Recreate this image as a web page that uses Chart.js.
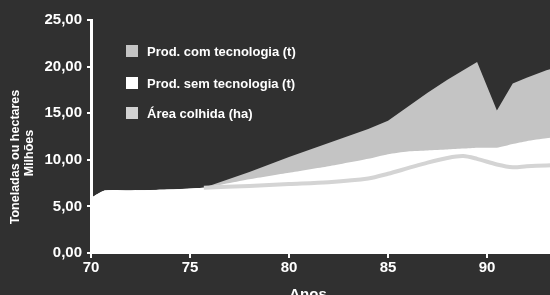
<!DOCTYPE html>
<html><head><meta charset="utf-8">
<script src="https://cdn.jsdelivr.net/npm/chart.js@4.4.0/dist/chart.umd.min.js"></script>
<style>
html,body{margin:0;padding:0;background:#303030;overflow:hidden;width:550px;height:295px;}
#wrap{position:absolute;left:0;top:0;width:600px;height:300px;}
canvas{display:block}
</style></head><body>
<div id="wrap"><canvas id="c" width="600" height="300"></canvas></div>
<script>
// ---- data ----
const years = [70, 70.7, 72, 74, 75.7, 78, 80, 82, 84, 85, 86, 87, 88, 88.8, 89.5, 90.5, 91.3, 92, 93, 94, 95];
const prodComTecnologia = [5.9, 6.7, 6.7, 6.8, 7.0, 8.7, 10.3, 11.8, 13.3, 14.2, 15.7, 17.2, 18.6, 19.6, 20.5, 15.3, 18.2, 18.8, 19.6, 20.2, 20.8];
const prodSemTecnologia = [5.9, 6.7, 6.7, 6.8, 7.0, 7.9, 8.6, 9.3, 10.1, 10.6, 10.9, 11.0, 11.1, 11.2, 11.3, 11.3, 11.7, 12.0, 12.3, 12.6, 12.9];
const areaColhida       = [5.9, 6.7, 6.7, 6.8, 7.0, 7.2, 7.4, 7.6, 8.0, 8.5, 9.1, 9.7, 10.2, 10.4, 10.1, 9.5, 9.2, 9.3, 9.4, 9.5, 9.6];
const seriesLabels = ['Prod. com tecnologia (t)', 'Prod. sem tecnologia (t)', 'Área colhida (ha)'];
const xTickValues = [70, 75, 80, 85, 90, 95];
const yTickValues = [0, 5, 10, 15, 20, 25];
const xTitle = 'Anos';
const yTitle = ['Toneladas ou hectares', 'Milhões'];

const FONT = '"Liberation Sans", Arial, sans-serif';
const BG = '#303030';
const C_COM = '#c4c4c4', C_SEM = '#ffffff', C_AREA_FILL = '#ffffff', C_AREA_EDGE = '#d4d4d4';
const legendColors = [C_COM, C_SEM, '#d2d2d2'];

const pts = arr => years.map((x, i) => ({x: x, y: arr[i]}));

const overlay = {
  id: 'overlay',
  beforeDraw(chart) {
    const ctx = chart.ctx;
    ctx.save();
    ctx.fillStyle = BG;
    ctx.fillRect(0, 0, chart.width, chart.height);
    ctx.restore();
  },
  afterDraw(chart) {
    const ctx = chart.ctx;
    ctx.save();
    // legend
    const ys = [51, 83, 113];
    ctx.font = 'bold 13px ' + FONT;
    ctx.textBaseline = 'middle';
    ctx.textAlign = 'left';
    seriesLabels.forEach((t, i) => {
      ctx.fillStyle = legendColors[i];
      ctx.fillRect(126, ys[i] - 6, 12, 12);
      ctx.fillStyle = '#ffffff';
      ctx.fillText(t, 147, ys[i] + 1);
    });
    // x title
    ctx.font = 'bold 15px ' + FONT;
    ctx.textAlign = 'center';
    ctx.fillText(xTitle, 308, 295);
    // y title
    ctx.font = 'bold 12.5px ' + FONT;
    ctx.translate(16, 157);
    ctx.rotate(-Math.PI / 2);
    ctx.fillText(yTitle[0], 0, 0);
    ctx.rotate(Math.PI / 2);
    ctx.translate(14, -4);
    ctx.rotate(-Math.PI / 2);
    ctx.fillText(yTitle[1], 0, 0);
    ctx.restore();
  }
};

new Chart(document.getElementById('c'), {
  type: 'line',
  data: {
    datasets: [
      {label: seriesLabels[0], data: pts(prodComTecnologia), order: 3, fill: 'origin',
       backgroundColor: C_COM, borderColor: C_COM, borderWidth: 0, pointRadius: 0, tension: 0},
      {label: seriesLabels[1], data: pts(prodSemTecnologia), order: 2, fill: 'origin',
       backgroundColor: C_SEM, borderColor: C_SEM, borderWidth: 0, pointRadius: 0, tension: 0.2},
      {label: seriesLabels[2], data: pts(areaColhida), order: 1, fill: 'origin',
       backgroundColor: C_AREA_FILL, borderColor: C_AREA_EDGE, borderWidth: 4, pointRadius: 0, tension: 0.3,
       borderCapStyle: 'butt',
       segment: {borderColor: c => c.p0.parsed.x < 75.7 ? 'rgba(255,255,255,0)' : C_AREA_EDGE}}
    ]
  },
  options: {
    responsive: false,
    animation: false,
    devicePixelRatio: 1,
    layout: {padding: {top: 20, right: 14, left: 0, bottom: 0}},
    plugins: {legend: {display: false}, tooltip: {enabled: false}},
    scales: {
      x: {
        type: 'linear', min: 70, max: 95,
        afterBuildTicks: s => { s.ticks = xTickValues.map(v => ({value: v})); },
        afterFit: s => { s.height = 47; },
        ticks: {color: '#ffffff', font: {family: FONT, size: 15, weight: 'bold'}, padding: 1, maxRotation: 0, autoSkip: false,
                callback: v => String(v)},
        grid: {display: true, drawOnChartArea: false, drawTicks: true, tickLength: 5, color: '#ffffff', lineWidth: 2},
        border: {display: true, color: '#ffffff', width: 2}
      },
      y: {
        min: 0, max: 25,
        afterBuildTicks: s => { s.ticks = yTickValues.map(v => ({value: v})); },
        afterFit: s => { s.width = 91; },
        ticks: {color: '#ffffff', font: {family: FONT, size: 15, weight: 'bold'}, padding: 5,
                callback: v => Number(v).toFixed(2).replace('.', ',')},
        grid: {display: true, drawOnChartArea: false, drawTicks: true, tickLength: 4, color: '#ffffff', lineWidth: 2},
        border: {display: true, color: '#ffffff', width: 3}
      }
    }
  },
  plugins: [overlay]
});
</script>
</body></html>
